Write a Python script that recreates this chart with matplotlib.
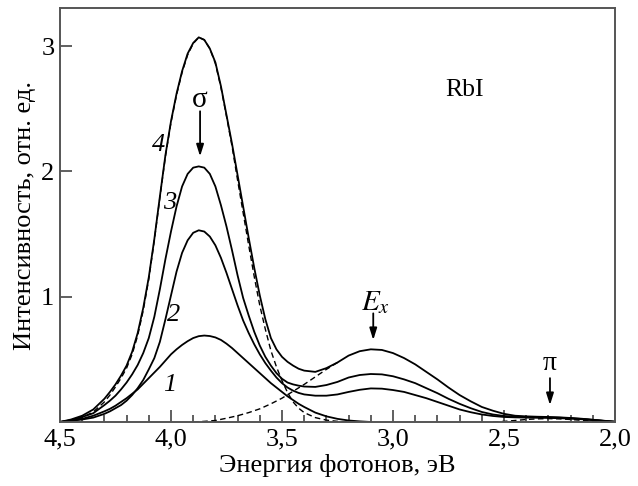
import numpy as np
import matplotlib
matplotlib.use('Agg')
import matplotlib.pyplot as plt
from matplotlib.ticker import MultipleLocator

plt.rcParams['font.family'] = ['Liberation Serif', 'DejaVu Serif']
plt.rcParams['mathtext.fontset'] = 'stix'

# photon energy grid, eV (denser over the main band)
energy = [4.50, 4.45, 4.40, 4.35,
          4.30, 4.275, 4.25, 4.225, 4.20, 4.175, 4.15, 4.125, 4.10, 4.075,
          4.05, 4.025, 4.00, 3.975, 3.95, 3.925, 3.90, 3.875, 3.85, 3.825,
          3.80, 3.775, 3.75, 3.725, 3.70, 3.675, 3.65, 3.625, 3.60, 3.575,
          3.55, 3.525, 3.50, 3.475, 3.45, 3.425, 3.40,
          3.35, 3.30, 3.25, 3.20, 3.15, 3.10, 3.05, 3.00, 2.95, 2.90,
          2.85, 2.80, 2.75, 2.70, 2.65, 2.60, 2.55, 2.50, 2.45, 2.40,
          2.35, 2.30, 2.25, 2.20, 2.15, 2.10, 2.05, 2.00]

curve4 = [0.00, 0.02, 0.05, 0.10,
          0.185, 0.24, 0.30, 0.37, 0.45, 0.56, 0.71, 0.91, 1.155, 1.46,
          1.80, 2.13, 2.40, 2.62, 2.80, 2.94, 3.025, 3.07, 3.05, 2.98,
          2.87, 2.68, 2.45, 2.22, 1.97, 1.72, 1.47, 1.23, 1.01, 0.82,
          0.67, 0.58, 0.52, 0.48, 0.45, 0.425, 0.41,
          0.40, 0.43, 0.475, 0.53, 0.565, 0.58, 0.575, 0.55, 0.51, 0.46,
          0.40, 0.34, 0.275, 0.215, 0.165, 0.12, 0.09, 0.065, 0.05, 0.045,
          0.042, 0.04, 0.037, 0.032, 0.026, 0.018, 0.01, 0.002]
curve3 = [0.00, 0.015, 0.04, 0.07,
          0.135, 0.17, 0.21, 0.26, 0.315, 0.38, 0.455, 0.55, 0.67, 0.84,
          1.06, 1.30, 1.52, 1.72, 1.88, 1.98, 2.03, 2.04, 2.03, 1.98,
          1.88, 1.73, 1.56, 1.37, 1.17, 0.99, 0.85, 0.72, 0.61, 0.52,
          0.45, 0.39, 0.345, 0.315, 0.30, 0.29, 0.283,
          0.28, 0.295, 0.32, 0.355, 0.375, 0.383, 0.38, 0.365, 0.34, 0.31,
          0.27, 0.23, 0.185, 0.145, 0.11, 0.08, 0.06, 0.048, 0.042, 0.04,
          0.038, 0.037, 0.034, 0.03, 0.024, 0.017, 0.009, 0.002]
curve2 = [0.00, 0.01, 0.02, 0.035,
          0.065, 0.085, 0.11, 0.135, 0.17, 0.215, 0.27, 0.335, 0.42, 0.51,
          0.64, 0.82, 1.01, 1.20, 1.35, 1.45, 1.51, 1.53, 1.52, 1.48,
          1.41, 1.31, 1.19, 1.06, 0.93, 0.81, 0.71, 0.62, 0.54, 0.47,
          0.41, 0.355, 0.31, 0.275, 0.25, 0.232, 0.22,
          0.21, 0.21, 0.22, 0.24, 0.257, 0.268, 0.266, 0.255, 0.24, 0.215,
          0.19, 0.16, 0.13, 0.10, 0.078, 0.06, 0.048, 0.04, 0.037, 0.035,
          0.034, 0.033, 0.03, 0.027, 0.022, 0.015, 0.008, 0.002]
# curve 1 ends at 3.10 eV
curve1 = [0.00, 0.01, 0.025, 0.05,
          0.085, 0.105, 0.13, 0.16, 0.19, 0.225, 0.26, 0.305, 0.35, 0.395,
          0.44, 0.49, 0.54, 0.58, 0.615, 0.645, 0.67, 0.685, 0.69, 0.686,
          0.675, 0.655, 0.625, 0.59, 0.55, 0.51, 0.47, 0.43, 0.39, 0.35,
          0.31, 0.275, 0.24, 0.205, 0.175, 0.145, 0.12,
          0.075, 0.045, 0.025, 0.012, 0.005, 0.0]

# decomposition bands (dashed)
sigma_band = [0.00, 0.01, 0.035, 0.08,
              0.16, 0.215, 0.28, 0.35, 0.43, 0.54, 0.69, 0.89, 1.14, 1.45,
              1.79, 2.12, 2.39, 2.61, 2.79, 2.93, 3.02, 3.07, 3.05, 2.98,
              2.86, 2.67, 2.44, 2.20, 1.93, 1.67, 1.41, 1.16, 0.93, 0.74,
              0.57, 0.44, 0.33, 0.235, 0.16, 0.11, 0.075,
              0.035, 0.015, 0.005, 0.0]
ex_band_e = [3.90, 3.85, 3.80, 3.75, 3.70, 3.65, 3.60, 3.55, 3.50, 3.45,
             3.40, 3.35, 3.30, 3.25]
ex_band = [0.0, 0.005, 0.012, 0.03, 0.05, 0.075, 0.105, 0.145, 0.19, 0.245,
           0.30, 0.36, 0.42, 0.475]
pi_band_e = [2.55, 2.50, 2.45, 2.40, 2.35, 2.30, 2.25, 2.20, 2.15, 2.10, 2.05, 2.00]
pi_band = [0.0, 0.005, 0.012, 0.02, 0.025, 0.027, 0.025, 0.02, 0.013, 0.007, 0.002, 0.0]

xticks = [4.5, 4.0, 3.5, 3.0, 2.5, 2.0]
xticklabels = ['4,5', '4,0', '3,5', '3,0', '2,5', '2,0']
yticks = [1, 2, 3]

fig = plt.figure(figsize=(6.38, 4.86), dpi=100)
ax = fig.add_axes([0.094, 0.1317, 0.870, 0.8518])

dash = dict(color='k', lw=1.0, ls=(0, (4, 2.5)))
ax.plot(energy[:len(sigma_band)], sigma_band, **dash)
ax.plot(ex_band_e, ex_band, **dash)
ax.plot(pi_band_e, pi_band, **dash)

solid = dict(color='k', lw=1.3)
ax.plot(energy, curve4, **solid)
ax.plot(energy, curve3, **solid)
ax.plot(energy, curve2, **solid)
ax.plot(energy[:len(curve1)], curve1, **solid)

ax.set_xlim(4.5, 2.0)
ax.set_ylim(0, 3.304)

ax.set_xticks(xticks)
ax.set_xticklabels(xticklabels)
ax.xaxis.set_minor_locator(MultipleLocator(0.1))
ax.set_yticks(yticks)
ax.set_yticklabels([str(t) for t in yticks])
ax.tick_params(axis='x', which='major', direction='in', length=8.5, width=1.2,
               color='#444444', labelsize=19, pad=5)
ax.tick_params(axis='x', which='minor', direction='in', length=5, width=1.2, color='#444444')
ax.tick_params(axis='y', which='major', direction='in', length=8.5, width=1.2,
               color='#444444', labelsize=19, pad=4)
for s in ax.spines.values():
    s.set_color('#555555')
    s.set_linewidth(1.4)

ax.set_xlabel('Энергия фотонов, эВ', fontsize=19, labelpad=2)
ax.set_ylabel('Интенсивность, отн. ед.', fontsize=19, labelpad=4)

# curve numbers
for txt, x, y in [('4', 4.057, 2.21), ('3', 4.005, 1.745), ('2', 3.99, 0.854), ('1', 4.005, 0.295)]:
    ax.text(x, y, txt, fontsize=19, style='italic', ha='center', va='center')

ax.text(2.676, 2.65, 'RbI', fontsize=18.5, ha='center', va='center')

arrow = dict(arrowstyle='-|>,head_width=0.22,head_length=0.7', color='k', lw=1.3,
             shrinkA=0, shrinkB=0)
ax.text(3.869, 2.57, 'σ', fontsize=21, ha='center', va='center')
ax.annotate('', xy=(3.869, 2.12), xytext=(3.869, 2.48), arrowprops=arrow)
ax.text(3.077, 0.95, '$E_x$', fontsize=21, ha='center', va='center')
ax.annotate('', xy=(3.089, 0.654), xytext=(3.089, 0.867), arrowprops=arrow)
ax.text(2.293, 0.47, 'π', fontsize=20, ha='center', va='center')
ax.annotate('', xy=(2.293, 0.135), xytext=(2.293, 0.35), arrowprops=arrow)

fig.savefig('out.png', dpi=100)
